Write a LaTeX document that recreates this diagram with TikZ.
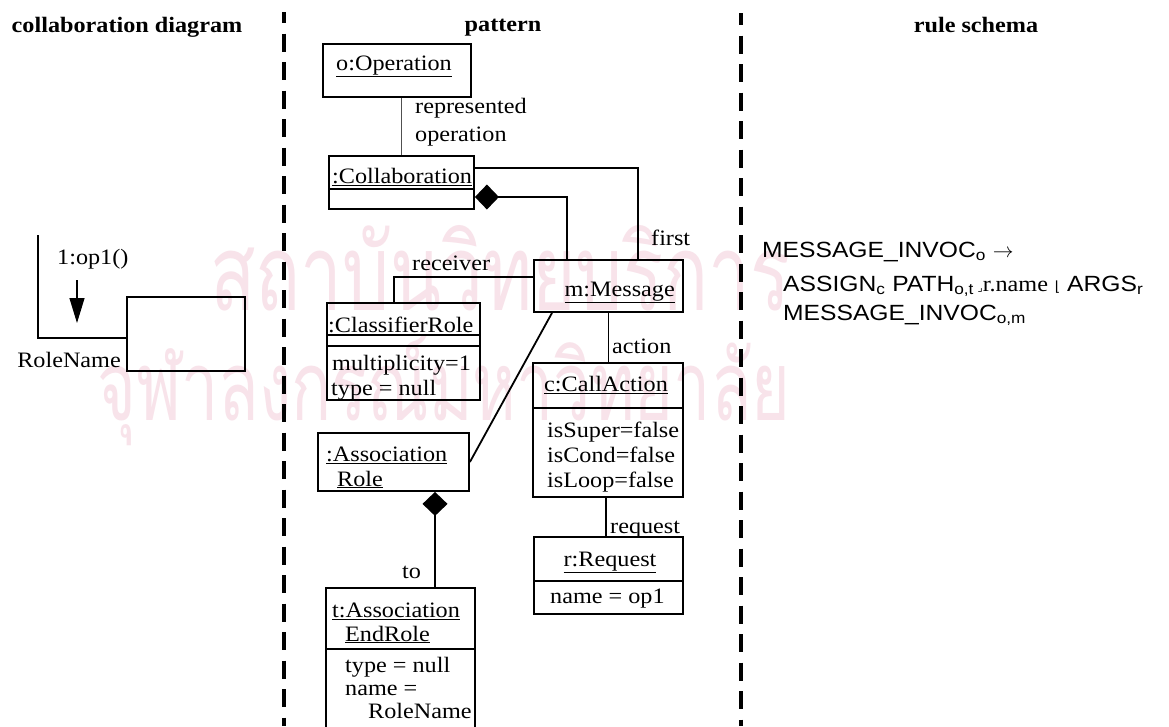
\documentclass[tikz,border=0pt]{standalone}
\usepackage{fontspec}
\setmainfont[FakeStretch=1.1]{Liberation Serif}
\newfontfamily\schemafont[FakeStretch=1.12]{Liberation Sans}
\newfontfamily\cornerfont{DejaVu Sans}
\newfontfamily\thaifont[Script=Thai]{Loma}
\usetikzlibrary{arrows.meta,positioning,calc}
\definecolor{stamp}{HTML}{F8E3EA}
\definecolor{linkgray}{HTML}{505050}

\newcommand{\objname}[1]{\underline{#1}}

\begin{document}
\begin{tikzpicture}[x=1pt, y=-1pt,
  obj/.style={draw, line width=1.8pt, inner sep=0pt},
  txt/.style={font=\fontsize{22}{25}\selectfont, inner sep=0pt, anchor=base west},
  head/.style={font=\fontsize{22}{25}\selectfont\bfseries, inner sep=0pt, anchor=base},
  rule/.style={font=\fontsize{22}{25}\selectfont\schemafont, inner sep=0pt, anchor=base west},
  link/.style={line width=1.8pt},
  comp/.style={link, -{Diamond[length=24pt,width=25pt]}},
  divider/.style={line width=4.5pt, dash pattern=on 18pt off 10.5pt},
  stampnode/.style={text=stamp, inner sep=0pt, anchor=base west}
]
\clip (0,0) rectangle (1169,726);
\fill[white] (0,0) rectangle (1169,726);

% faint stamp behind everything
\node[stampnode] (stampA) at (210,310) {\resizebox{580pt}{85pt}{\thaifont สถาบันวิทยบริการ}};
\node[stampnode] (stampB) at (97,420)  {\resizebox{693pt}{85pt}{\thaifont จุฬาลงกรณ์มหาวิทยาลัย}};

% column headings and the two separators
\node[head] (hdrCollab)  at (127,32) {collaboration diagram};
\node[head] (hdrPattern) at (503,31) {pattern};
\node[head] (hdrRule)    at (976,32) {rule schema};
\draw[divider, dash phase=7pt] (284,12) -- (284,726);
\draw[divider, dash phase=6pt] (741,13) -- (741,726);

% --- collaboration diagram: one role with an incoming call
\node[obj, minimum width=118, minimum height=74] (roleBox) at (186,334) {};
\coordinate (linkTop) at (38,235);
\draw[link] (linkTop) |- ([yshift=-4]roleBox.west);
\coordinate (msgTail) at (77,280);
\coordinate (msgTip)  at (77,323);
\draw[line width=1.2pt, -{Triangle[length=25pt,width=15pt]}] (msgTail) -- (msgTip);
\node[txt] (msgLbl)  at (57,264) {1:op1()};
\node[txt, anchor=base east] (roleLbl) at (121,367) {RoleName};

% --- pattern: object boxes
\node[obj, minimum width=148, minimum height=53]  (opBox)     at (397,70.5)  {};
\node[obj, minimum width=145, minimum height=53]  (collabBox) at (401.5,182.5) {};
\node[obj, minimum width=149, minimum height=52]  (mBox)      at (608.5,286) {};
\node[obj, minimum width=153, minimum height=97]  (crBox)     at (403.5,351.5) {};
\node[obj, minimum width=150, minimum height=134] (caBox)     at (608,430)   {};
\node[obj, minimum width=149, minimum height=77]  (rBox)      at (608.5,575.5) {};
\node[obj, minimum width=151, minimum height=58]  (arBox)     at (393.5,462) {};
\node[obj, minimum width=149, minimum height=157] (endBox)    at (400.5,666.5) {};

% compartment rules
\draw[link] (collabBox.west |- 0,189) -- (collabBox.east |- 0,189);
\draw[link] (crBox.west |- 0,335) -- (crBox.east |- 0,335);
\draw[link] (crBox.west |- 0,346) -- (crBox.east |- 0,346);
\draw[link] (caBox.west |- 0,408) -- (caBox.east |- 0,408);
\draw[link] (rBox.west |- 0,581) -- (rBox.east |- 0,581);
\draw[link] (endBox.west |- 0,649) -- (endBox.east |- 0,649);

% object names and attribute values
\node[txt] (opName)     at (336,70)  {\objname{o:Operation}};
\node[txt] (collabName) at (332,183) {\objname{:Collaboration}};
\node[txt, anchor=base east] (mName) at (675,296) {\objname{m:Message}};
\node[txt] (crName)     at (328,332) {\objname{:ClassifierRole}};
\node[txt] (crMult)     at (332,370) {multiplicity=1};
\node[txt] (crType)     at (331,395) {type = null};
\node[txt, anchor=base] (caName) at (606,391) {\objname{c:CallAction}};
\node[txt] (caSuper)    at (547,437) {isSuper=false};
\node[txt] (caCond)     at (547,462) {isCond=false};
\node[txt] (caLoop)     at (547,487) {isLoop=false};
\node[txt, anchor=base] (rName) at (610,566) {\objname{r:Request}};
\node[txt] (rArg)       at (550,603) {name = op1};
\node[txt] (arName)     at (326,461) {\objname{:Association}};
\node[txt] (arName2)    at (337,486) {\objname{Role}};
\node[txt] (endName)    at (332,617) {\objname{t:Association}};
\node[txt] (endName2)   at (345,641) {\objname{EndRole}};
\node[txt] (endType)    at (345,672) {type = null};
\node[txt] (endRole)    at (345,695) {name =};
\node[txt] (endRole2)   at (368,718) {RoleName};

% links between the objects
\draw[line width=1.4pt, linkgray] (collabBox.north) -- (collabBox.north |- opBox.south);
\node[txt] (repLbl)  at (415,113) {represented};
\node[txt] (repLbl2) at (415,141) {operation};

\draw[link] ([yshift=14.5]collabBox.east) -| ([xshift=29.5]mBox.north);
\node[txt] (firstLbl) at (651,245) {first};
\draw[comp] ([xshift=-41.5]mBox.north) |- ([yshift=-14.5]collabBox.east);

\draw[link] ([yshift=9]mBox.west) -| ([xshift=-9.5]crBox.north);
\node[txt] (recvLbl) at (412,270) {receiver};

\draw[link] ([xshift=-56.5]mBox.south) -- (arBox.east);

\draw[link] (mBox.south) -- (mBox.south |- caBox.north);
\node[txt] (actLbl) at (612,353) {action};

\draw[link] ([xshift=-2]caBox.south) -- ([xshift=-2]caBox.south |- rBox.north);
\node[txt] (reqLbl) at (610,533) {request};

\draw[comp] ([xshift=34.5]endBox.north) -- ([xshift=34.5]endBox.north |- arBox.south);
\node[txt] (toLbl) at (402,578) {to};

% --- rule schema
\node[rule] (ruleA) at (762,257) {MESSAGE\_INVOC\textsubscript{o} $\rightarrow$};
\node[rule] (ruleB) at (783,291) {ASSIGN\textsubscript{c} PATH\textsubscript{o,t}\,{\cornerfont\fontsize{11}{11}\selectfont ⌟}{\rmfamily r.name} {\cornerfont\fontsize{14}{14}\selectfont ⌊} ARGS\textsubscript{r}};
\node[rule] (ruleC) at (783,320) {MESSAGE\_INVOC\textsubscript{o,m}};
\end{tikzpicture}
\end{document}
